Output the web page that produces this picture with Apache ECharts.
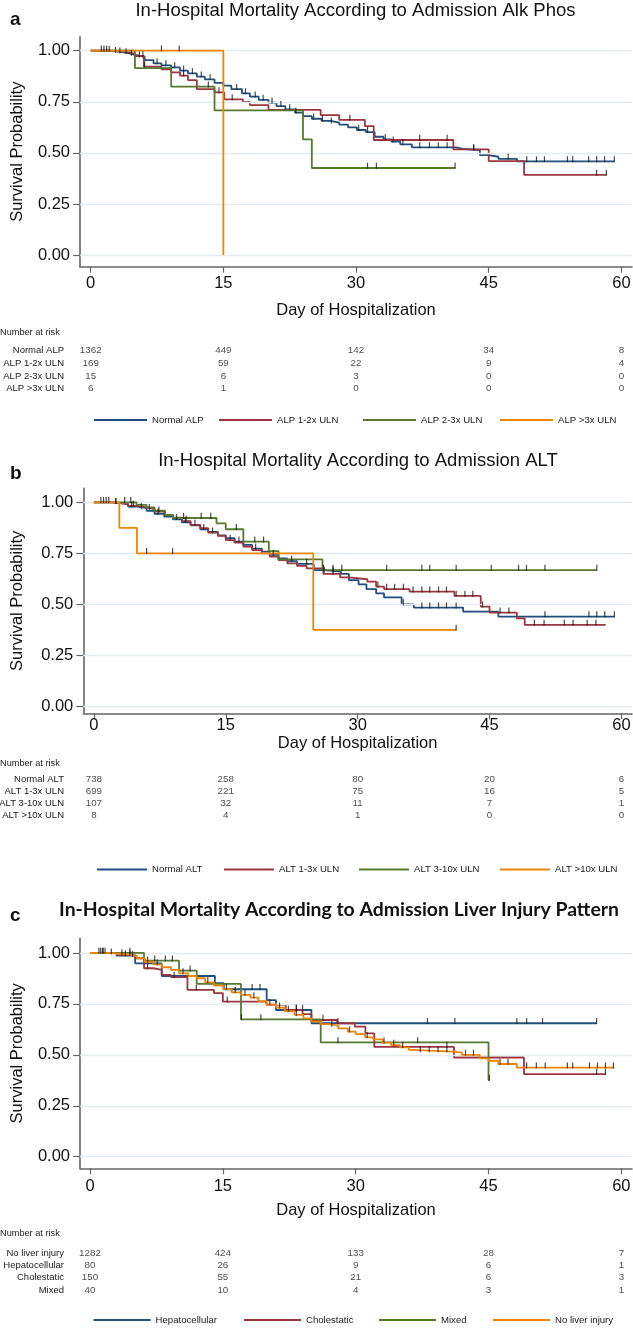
<!DOCTYPE html>
<html><head><meta charset="utf-8">
<script src="https://cdn.jsdelivr.net/npm/echarts@6/dist/echarts.min.js"></script>
<style>html,body{margin:0;padding:0;background:#fff}#c{width:633px;height:1328px}</style>
</head><body><div id="c"></div>
<script>
// ---------- shared ticks ----------
const xTicks = [0, 15, 30, 45, 60];
const yTicks = [0, 0.25, 0.5, 0.75, 1];

// ---------- panel a : Alk Phos ----------
const titleA = 'In-Hospital Mortality According to Admission Alk Phos';
const namesA = ['Normal ALP', 'ALP 1-2x ULN', 'ALP 2-3x ULN', 'ALP >3x ULN'];
const aNormal = [[0,1],[2.4,0.993],[3.5,0.987],[4.4,0.979],[5,0.971],[6.1,0.954],[7.1,0.938],[8,0.928],[9.1,0.918],[10.1,0.902],[11,0.889],[12,0.873],[12.9,0.86],[14,0.843],[15,0.829],[15.9,0.812],[17.1,0.791],[18,0.775],[19,0.759],[20.1,0.746],[21,0.729],[22,0.713],[23.1,0.697],[24,0.68],[25,0.667],[26.1,0.657],[27.1,0.648],[28.1,0.638],[29.1,0.625],[30.1,0.612],[31.1,0.602],[32.1,0.579],[33.1,0.566],[34,0.555],[35,0.542],[36.3,0.527],[41.3,0.519],[42.1,0.514],[44,0.489],[45,0.481],[46.1,0.471],[48.2,0.458],[59.2,0.458]];
const aRed = [[0,1],[2,0.997],[3.1,0.993],[4.26,0.984],[5,0.974],[6,0.922],[8,0.909],[9.1,0.894],[10.1,0.878],[11,0.856],[12,0.812],[14,0.796],[15.1,0.762],[17.2,0.75],[18,0.734],[20.1,0.71],[26,0.685],[28.1,0.661],[31,0.631],[32,0.563],[41,0.517],[45,0.46],[49,0.392],[58.3,0.392]];
const aGreen = [[0,1],[5,0.915],[9.1,0.824],[14,0.708],[24,0.566],[25,0.426],[41.2,0.426]];
const aOrange = [[0,1],[15,0]];
const aNormalCens = [[1.2,1],[1.5,1],[1.8,1],[2.1,0.997],[2.8,0.993],[3.3,0.99],[4,0.987],[4.6,0.979],[5.5,0.971],[5.9,0.971],[7.5,0.938],[8.5,0.928],[9.5,0.918],[10.5,0.902],[11.5,0.889],[12.5,0.873],[13.5,0.86],[16.5,0.812],[17.5,0.791],[18.6,0.775],[19.5,0.759],[20.5,0.746],[21.5,0.729],[22.5,0.713],[23.2,0.697],[25.2,0.667],[26.2,0.657],[27.2,0.648],[30.3,0.612],[31.3,0.602],[33.3,0.566],[34.2,0.555],[35.3,0.542],[37.2,0.527],[38.3,0.527],[39.3,0.527],[40.3,0.527],[43.3,0.514],[47.2,0.471],[49.3,0.458],[50.4,0.458],[51.3,0.458],[53.9,0.458],[54.5,0.458],[56.3,0.458],[57.2,0.458],[58.1,0.458],[59.2,0.458]];
const aRedCens = [[6.1,0.922],[10.5,0.878],[14.5,0.796],[16,0.762],[29.3,0.661],[37.2,0.563],[40.3,0.563],[43.3,0.517],[57.2,0.392],[58.3,0.392]];
const aGreenCens = [[13.3,0.824],[31.3,0.426],[32.3,0.426],[41.2,0.426]];
const aOrangeCens = [[8,1],[10,1]];
const riskRowsA = ['Normal ALP', 'ALP 1-2x ULN', 'ALP 2-3x ULN', 'ALP >3x ULN'];
const riskA_normal = [1362, 449, 142, 34, 8];
const riskA_1to2 = [169, 59, 22, 9, 4];
const riskA_2to3 = [15, 6, 3, 0, 0];
const riskA_gt3 = [6, 1, 0, 0, 0];

// ---------- panel b : ALT ----------
const titleB = 'In-Hospital Mortality According to Admission ALT';
const namesB = ['Normal ALT', 'ALT 1-3x ULN', 'ALT 3-10x ULN', 'ALT >10x ULN'];
const bNormal = [[0,1],[2,0.996],[3,0.99],[3.9,0.979],[5,0.971],[6,0.958],[6.9,0.943],[8,0.93],[9,0.917],[10,0.902],[11,0.887],[12.1,0.868],[13,0.855],[14.1,0.838],[15,0.824],[16,0.807],[17,0.791],[18,0.773],[19.1,0.758],[20,0.742],[21,0.725],[22,0.712],[23.1,0.698],[25,0.668],[26.1,0.66],[28.1,0.649],[29,0.619],[30.1,0.598],[31,0.575],[32.1,0.554],[33,0.534],[35,0.5],[36.4,0.484],[42,0.464],[46,0.44],[59.2,0.44]];
const bRed = [[0,1],[2,0.996],[3,0.992],[3.9,0.982],[5,0.975],[6,0.966],[6.9,0.954],[8,0.938],[9,0.925],[10,0.908],[11,0.889],[12.1,0.873],[13,0.851],[14.1,0.835],[15,0.815],[16,0.802],[17,0.783],[18,0.766],[19.1,0.75],[20,0.734],[21,0.717],[22,0.701],[23.1,0.688],[24.2,0.676],[26.1,0.649],[28,0.632],[29,0.623],[31.1,0.611],[32.1,0.587],[33,0.575],[35.9,0.562],[41,0.541],[44,0.489],[45,0.459],[48.1,0.431],[49,0.399],[58.2,0.399]];
const bGreen = [[0,1],[4.85,0.987],[6,0.975],[6.9,0.959],[8.1,0.938],[9,0.923],[13.95,0.897],[15,0.868],[17,0.807],[19.9,0.761],[21,0.72],[26,0.668],[57.2,0.668]];
const bOrange = [[0,1],[2.9,0.875],[4.9,0.75],[24.95,0.375],[41.2,0.375]];
const bNormalCens = [[0.8,1],[1.1,1],[1.4,1],[1.7,1],[2.5,0.996],[4.3,0.979],[5.4,0.971],[7.3,0.943],[9.4,0.917],[10.4,0.902],[12.5,0.868],[16.5,0.807],[18.4,0.773],[20.4,0.742],[22.5,0.712],[24.2,0.698],[26.2,0.66],[27.2,0.66],[35.2,0.5],[37.3,0.484],[38.2,0.484],[39.2,0.484],[40.1,0.484],[41.2,0.484],[51.3,0.44],[56.3,0.44],[57.2,0.44],[58.1,0.44],[59.2,0.44]];
const bRedCens = [[2.5,0.996],[4.5,0.982],[6.3,0.966],[7.4,0.954],[10.5,0.908],[11.5,0.889],[13.5,0.851],[15.5,0.815],[27.2,0.649],[32.3,0.587],[33.3,0.575],[34.2,0.575],[35.2,0.575],[36.3,0.562],[37.3,0.562],[38.2,0.562],[39.2,0.562],[40.1,0.562],[41.2,0.541],[42.2,0.541],[43.1,0.541],[44.2,0.489],[46.2,0.459],[47.2,0.459],[50.1,0.399],[51.2,0.399],[53.5,0.399],[54.5,0.399],[56.1,0.399],[57.1,0.399]];
const bGreenCens = [[3.5,1],[4.2,1],[10.2,0.923],[12.2,0.923],[13.3,0.923],[16.2,0.868],[18.3,0.807],[19.3,0.807],[26.1,0.668],[27.2,0.668],[28.2,0.668],[33.3,0.668],[37.3,0.668],[38.2,0.668],[41.2,0.668],[45.2,0.668],[48.3,0.668],[49.2,0.668],[51.3,0.668],[57.2,0.668]];
const bOrangeCens = [[6,0.75],[8.95,0.75],[41.2,0.375]];
const riskRowsB = ['Normal ALT', 'ALT 1-3x ULN', 'ALT 3-10x ULN', 'ALT >10x ULN'];
const riskB_normal = [738, 258, 80, 20, 6];
const riskB_1to3 = [699, 221, 75, 16, 5];
const riskB_3to10 = [107, 32, 11, 7, 1];
const riskB_gt10 = [8, 4, 1, 0, 0];

// ---------- panel c : liver injury pattern ----------
const titleC = 'In-Hospital Mortality According to Admission Liver Injury Pattern';
const namesC = ['Hepatocellular', 'Cholestatic', 'Mixed', 'No liver injury'];
const cHep = [[0,1],[3,0.987],[5.1,0.949],[8.1,0.887],[14.1,0.852],[15.1,0.822],[19.95,0.769],[21,0.72],[25,0.655],[57.2,0.655]];
const cChol = [[0,1],[3.2,0.99],[5.1,0.974],[6.1,0.925],[7.15,0.917],[8.1,0.892],[9.15,0.881],[11,0.819],[14,0.803],[15,0.761],[19.9,0.745],[22.1,0.72],[24,0.7],[25,0.671],[27.9,0.655],[29.9,0.638],[31.1,0.605],[32.1,0.539],[41.1,0.487],[49,0.405],[58.2,0.405]];
const cMixed = [[0,1],[6.1,0.962],[10.05,0.913],[12.05,0.848],[17.05,0.674],[26.05,0.561],[45,0.376],[45.1,0.376]];
const cNone = [[0,1],[2.1,0.997],[3.2,0.993],[4.3,0.985],[5.3,0.974],[6.2,0.957],[7.15,0.944],[8.1,0.93],[9.15,0.917],[10.05,0.9],[11.1,0.887],[12.05,0.876],[13,0.856],[14,0.84],[15.05,0.823],[16,0.807],[17.05,0.794],[18.1,0.781],[19,0.764],[19.95,0.748],[21,0.732],[22,0.715],[23.1,0.696],[24.1,0.679],[25,0.663],[26.05,0.651],[27,0.642],[28.05,0.63],[29.1,0.614],[30,0.602],[31.05,0.586],[32,0.576],[33.05,0.56],[34,0.548],[35,0.537],[36,0.524],[36.5,0.516],[41,0.511],[42,0.5],[44,0.483],[45,0.471],[46.1,0.455],[48.2,0.437],[59.2,0.437]];
const cHepCens = [[1.5,1],[4,0.987],[18.3,0.822],[19.2,0.822],[23.3,0.72],[24,0.72],[28,0.655],[38.1,0.655],[41.2,0.655],[48.2,0.655],[49.3,0.655],[51.1,0.655],[57.2,0.655]];
const cCholCens = [[4.5,0.99],[6.5,0.925],[9.5,0.881],[12,0.819],[15.5,0.761],[23.3,0.72],[26.3,0.671],[40.3,0.539],[57.2,0.405],[58.2,0.405]];
const cMixedCens = [[4.5,1],[7.3,0.962],[8.5,0.962],[9.3,0.962],[11.3,0.913],[17.1,0.674],[19.3,0.674],[28,0.561],[37,0.561],[45.1,0.376]];
const cNoneCens = [[1,1],[1.2,1],[1.4,1],[1.7,1],[2.4,0.997],[3.6,0.993],[4.8,0.985],[6.5,0.957],[7.6,0.944],[10.5,0.9],[13.3,0.856],[15.4,0.823],[16.4,0.807],[17.5,0.794],[18.5,0.781],[20.3,0.748],[21.4,0.732],[22.4,0.715],[23.3,0.696],[27.3,0.642],[29.3,0.614],[31.3,0.586],[33.2,0.56],[34.3,0.548],[35.3,0.537],[37.3,0.516],[38.3,0.516],[39.3,0.516],[40.3,0.516],[42.4,0.5],[43.3,0.5],[46.3,0.455],[47.2,0.455],[49.3,0.437],[50.4,0.437],[51.4,0.437],[53.9,0.437],[54.5,0.437],[56.4,0.437],[57.3,0.437],[58.2,0.437],[59.1,0.437]];
const riskRowsC = ['No liver injury', 'Hepatocellular', 'Cholestatic', 'Mixed'];
const riskC_none = [1282, 424, 133, 28, 7];
const riskC_hep = [80, 26, 9, 6, 1];
const riskC_chol = [150, 55, 21, 6, 3];
const riskC_mixed = [40, 10, 4, 3, 1];

// ---------- styles / layout ----------
const COLORS = ['#1f4f7c', '#9c3540', '#57782f', '#ee8500'];
const FONT = '"Liberation Sans", Arial, Helvetica, sans-serif';
const TXT = '#111';
const AXC = '#666';

const panels = [
  { title: titleA, letter: 'a', names: namesA, curves: [aNormal, aRed, aGreen, aOrange],
    cens: [aNormalCens, aRedCens, aGreenCens, aOrangeCens],
    rows: riskRowsA, risk: [riskA_normal, riskA_1to2, riskA_2to3, riskA_gt3],
    L: { plot: {left: 80, top: 36.7, width: 552, height: 230}, xr: [-1.21, 61.2], yr: [-0.057, 1.0685],
         titleX: 355.5, titleTop: 1, titleFont: {fontFamily: FONT, fontWeight: 'normal', fontSize: 18.5},
         letterTop: 10, xLabelMargin: 8, xNameGap: 35, yNameGap: 54,
         narTop: 327.5, table: {top: 344.2, height: 50.8}, legendTop: 415, legendLeft: [94, 219, 363, 500], legendW: 53 } },
  { title: titleB, letter: 'b', names: namesB, curves: [bNormal, bRed, bGreen, bOrange],
    cens: [bNormalCens, bRedCens, bGreenCens, bOrangeCens],
    rows: riskRowsB, risk: [riskB_normal, riskB_1to3, riskB_3to10, riskB_gt10],
    L: { plot: {left: 83.3, top: 488.3, width: 548.7, height: 225}, xr: [-1.2, 61.2], yr: [-0.034, 1.0686],
         titleX: 358, titleTop: 451.5, titleFont: {fontFamily: FONT, fontWeight: 'normal', fontSize: 18.5},
         letterTop: 464, xLabelMargin: 4, xNameGap: 22, yNameGap: 57,
         narTop: 759, table: {top: 773.3, height: 48}, legendTop: 864.5, legendLeft: [97, 224, 359, 500], legendW: 50 } },
  { title: titleC, letter: 'c', names: namesC, curves: [cHep, cChol, cMixed, cNone],
    cens: [cHepCens, cCholCens, cMixedCens, cNoneCens],
    rows: riskRowsC, risk: [riskC_none, riskC_hep, riskC_chol, riskC_mixed],
    L: { plot: {left: 80, top: 938.3, width: 552, height: 230}, xr: [-1.13, 61.2], yr: [-0.057, 1.072],
         titleX: 339, titleTop: 900.5, titleFont: {fontFamily: 'Lato, ' + FONT, fontWeight: 'bold', fontSize: 19.4},
         letterTop: 906, xLabelMargin: 10, xNameGap: 34, yNameGap: 54,
         narTop: 1229, table: {top: 1247.2, height: 48.9}, legendTop: 1315, legendLeft: [93.6, 244, 379, 493], legendW: 57 } }
];

const option = { animation: false, backgroundColor: '#fff', title: [], legend: [], grid: [], xAxis: [], yAxis: [], series: [] };

panels.forEach((p) => {
  const L = p.L;
  const gPlot = option.grid.length;
  option.grid.push(Object.assign({containLabel: false, outerBoundsMode: 'none'}, L.plot));
  const gTab = option.grid.length;
  option.grid.push({containLabel: false, outerBoundsMode: 'none', left: L.plot.left, width: L.plot.width, top: L.table.top, height: L.table.height});

  // titles
  option.title.push({ text: p.title, left: L.titleX, top: L.titleTop, textAlign: 'center', padding: 0,
    textStyle: Object.assign({color: TXT}, L.titleFont) });
  option.title.push({ text: p.letter, left: 10, top: L.letterTop, padding: 0,
    textStyle: {fontFamily: FONT, fontWeight: 'bold', fontSize: 19, color: TXT} });
  option.title.push({ text: 'Number at risk', left: 0, top: L.narTop, padding: 0,
    textStyle: {fontFamily: FONT, fontWeight: 'normal', fontSize: 9.2, color: '#222'} });

  // plot axes
  option.xAxis.push({ type: 'value', gridIndex: gPlot, min: L.xr[0], max: L.xr[1],
    name: 'Day of Hospitalization', nameLocation: 'middle', nameGap: L.xNameGap, nameMoveOverlap: false,
    nameTextStyle: {fontFamily: FONT, fontSize: 16.5, color: TXT},
    axisLine: {show: true, onZero: false, lineStyle: {color: AXC, width: 1.6}},
    axisTick: {show: true, length: 6, customValues: xTicks, lineStyle: {color: AXC, width: 1.2}},
    axisLabel: {show: true, customValues: xTicks, margin: L.xLabelMargin, fontFamily: FONT, fontSize: 16.5, color: TXT,
      showMinLabel: true, showMaxLabel: true},
    splitLine: {show: false} });
  option.yAxis.push({ type: 'value', gridIndex: gPlot, min: L.yr[0], max: L.yr[1],
    name: 'Survival Probability', nameLocation: 'middle', nameGap: L.yNameGap, nameMoveOverlap: false,
    nameTextStyle: {fontFamily: FONT, fontSize: 16.5, color: TXT},
    axisLine: {show: true, onZero: false, lineStyle: {color: AXC, width: 1.6}},
    axisTick: {show: true, length: 7, customValues: yTicks, lineStyle: {color: AXC, width: 1.2}},
    axisLabel: {show: true, customValues: yTicks, margin: 10, fontFamily: FONT, fontSize: 16.5, color: TXT,
      formatter: v => Number(v).toFixed(2)},
    splitLine: {show: false} });
  const xPlot = option.xAxis.length - 1, yPlot = option.yAxis.length - 1;

  // table axes
  option.xAxis.push({ type: 'value', gridIndex: gTab, min: L.xr[0], max: L.xr[1], show: false });
  option.yAxis.push({ type: 'category', gridIndex: gTab, data: p.rows, inverse: true,
    axisLine: {show: false}, axisTick: {show: false}, splitLine: {show: false},
    axisLabel: {show: true, interval: 0, margin: L.plot.left - 64, fontFamily: FONT, fontSize: 9.5, color: '#1a1a1a'} });
  const xTab = option.xAxis.length - 1, yTab = option.yAxis.length - 1;

  // grid lines via markLine on a carrier series
  option.series.push({ type: 'line', name: 'grid-' + p.letter, xAxisIndex: xPlot, yAxisIndex: yPlot, data: [], z: 1, silent: true,
    markLine: { silent: true, symbol: ['none', 'none'], label: {show: false}, animation: false,
      lineStyle: {color: '#e3ebef', width: 1.4, type: 'solid'},
      emphasis: {disabled: true}, data: yTicks.map(v => ({yAxis: v})) } });

  // curves
  p.curves.forEach((d, i) => {
    option.series.push({ type: 'line', name: p.names[i], xAxisIndex: xPlot, yAxisIndex: yPlot, step: 'end',
      data: d, showSymbol: false, symbol: 'none', z: 3 + i, silent: true,
      color: COLORS[i], lineStyle: {color: COLORS[i], width: 1.8} });
  });
  // censor marks
  p.cens.forEach((d, i) => {
    option.series.push({ type: 'scatter', name: 'cens-' + p.letter + i, xAxisIndex: xPlot, yAxisIndex: yPlot,
      data: d, symbol: 'rect', symbolSize: [1.2, 6], symbolOffset: [0, -2.2], z: 9, silent: true,
      itemStyle: {color: '#1c1c1c'} });
  });
  // risk table numbers
  p.risk.forEach((vals, r) => {
    option.series.push({ type: 'scatter', name: 'risk-' + p.letter + r, xAxisIndex: xTab, yAxisIndex: yTab,
      data: vals.map((v, j) => [xTicks[j], p.rows[r], v]), symbolSize: 1, silent: true,
      itemStyle: {color: 'rgba(0,0,0,0)'},
      label: {show: true, position: 'inside', formatter: q => String(q.value[2]),
        fontFamily: FONT, fontSize: 9.8, color: '#1a1a1a'} });
  });
  // legends (one per entry)
  p.names.forEach((nm, i) => {
    option.legend.push({ data: [nm], left: L.legendLeft[i], top: L.legendTop, padding: 0, itemGap: 0,
      itemWidth: L.legendW, itemHeight: 2, icon: 'rect', selectedMode: false,
      textStyle: {fontFamily: FONT, fontSize: 9.6, color: '#1a1a1a'} });
  });
});

const chart = echarts.init(document.getElementById('c'), null, {renderer: 'canvas', width: 633, height: 1328});
chart.setOption(option);
</script></body></html>
